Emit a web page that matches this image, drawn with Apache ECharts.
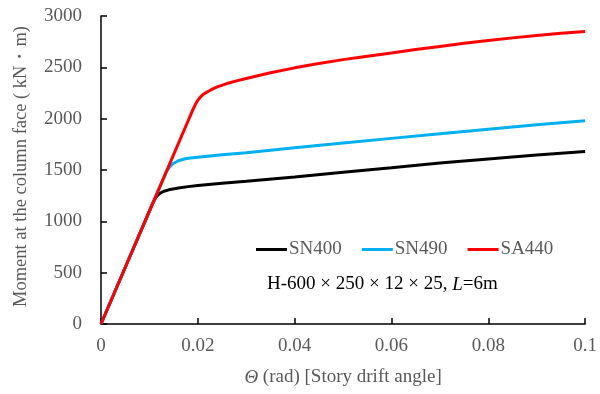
<!DOCTYPE html>
<html><head><meta charset="utf-8">
<script src="https://cdn.jsdelivr.net/npm/echarts@6/dist/echarts.min.js"></script>
<style>html,body{margin:0;padding:0;background:#fff}#c{width:600px;height:394px}</style>
</head><body><div id="c"></div>
<script>
const seriesNames = ['SN400', 'SN490', 'SA440'];
const thetaSN400 = [0, 0.005, 0.0105, 0.011, 0.0115, 0.012, 0.0125, 0.013, 0.014, 0.016, 0.018, 0.02, 0.025, 0.03, 0.04, 0.05, 0.06, 0.07, 0.08, 0.09, 0.1];
const momentSN400 = [0, 550, 1155, 1205, 1242, 1266, 1282, 1293, 1307, 1325, 1338, 1350, 1372, 1390, 1432, 1478, 1522, 1568, 1608, 1645, 1680];
const thetaSN490 = [0, 0.005, 0.01, 0.0125, 0.0135, 0.014, 0.0145, 0.015, 0.016, 0.017, 0.018, 0.02, 0.025, 0.03, 0.04, 0.05, 0.06, 0.07, 0.08, 0.09, 0.1];
const momentSN490 = [0, 550, 1100, 1375, 1480, 1518, 1546, 1566, 1590, 1605, 1615, 1625, 1648, 1668, 1716, 1763, 1808, 1853, 1898, 1940, 1980];
const thetaSA440 = [0, 0.005, 0.01, 0.015, 0.018, 0.0185, 0.019, 0.0195, 0.02, 0.0205, 0.021, 0.022, 0.023, 0.024, 0.026, 0.028, 0.03, 0.035, 0.04, 0.045, 0.05, 0.055, 0.06, 0.065, 0.07, 0.075, 0.08, 0.085, 0.09, 0.095, 0.1];
const momentSA440 = [0, 550, 1100, 1650, 1980, 2035, 2090, 2140, 2180, 2208, 2232, 2262, 2288, 2310, 2342, 2368, 2392, 2447, 2495, 2538, 2575, 2608, 2640, 2673, 2704, 2734, 2762, 2787, 2810, 2831, 2850];
const xTicks = [0, 0.02, 0.04, 0.06, 0.08, 0.1];
const yTicks = [0, 500, 1000, 1500, 2000, 2500, 3000];
const colors = ['#000000', '#00B0F0', '#FF0000'];

const pair = (xs, ys) => xs.map((x, i) => [x, ys[i]]);
const dataSets = [pair(thetaSN400, momentSN400), pair(thetaSN490, momentSN490), pair(thetaSA440, momentSA440)];

const font = '"Liberation Serif", "Times New Roman", serif';
const gray = '#595959';
const chart = echarts.init(document.getElementById('c'));
chart.setOption({
  animation: false,
  textStyle: {fontFamily: font},
  grid: {left: 101, right: 12, top: 16, bottom: 70},
  legend: {
    data: seriesNames, left: 251, top: 235, icon: 'rect', itemWidth: 31, itemHeight: 3, itemGap: 20,
    textStyle: {fontFamily: font, fontSize: 19, color: gray, padding: [0, 0, 0, -3]}
  },
  xAxis: {
    type: 'value', min: xTicks[0], max: xTicks[xTicks.length - 1], interval: 0.02,
    axisLine: {lineStyle: {color: '#000', width: 1.5}},
    axisTick: {inside: true, length: 6, lineStyle: {color: '#000', width: 1.5}},
    splitLine: {show: false},
    axisLabel: {fontFamily: font, fontSize: 19, color: gray, margin: 13,
      formatter: v => { const t = xTicks.find(k => Math.abs(k - v) < 1e-9); return t === undefined ? '' : String(+t.toFixed(2)); }},
    name: '{i|Θ} (rad) [Story drift angle]', nameLocation: 'middle', nameGap: 44,
    nameTextStyle: {fontFamily: font, fontSize: 19, color: gray, rich: {i: {fontStyle: 'italic', fontFamily: font, fontSize: 19, color: gray}}}
  },
  yAxis: {
    type: 'value', min: yTicks[0], max: yTicks[yTicks.length - 1], interval: 500,
    axisLine: {show: true, lineStyle: {color: '#000', width: 1.5}},
    axisTick: {show: true, inside: true, length: 6, lineStyle: {color: '#000', width: 1.5}},
    splitLine: {show: false},
    axisLabel: {fontFamily: font, fontSize: 19, color: gray, margin: 19, formatter: v => String(v)}
  },
  graphic: [{
    type: 'text', x: 21, y: 166.5, rotation: Math.PI / 2,
    style: {
      text: 'Moment at the column face ( kN・m)', fontFamily: font, fontSize: 18.5, fill: gray,
      align: 'center', verticalAlign: 'middle'
    }
  }, {
    type: 'text', left: 267, top: 275,
    style: {
      text: '{n|H-600 × 250 × 12 × 25, }{i|L}{n|=6m}',
      rich: {n: {fontFamily: font, fontSize: 19, fill: '#000'}, i: {fontFamily: font, fontSize: 19, fontStyle: 'italic', fill: '#000'}}
    }
  }],
  series: seriesNames.map((n, i) => ({
    name: n, type: 'line', data: dataSets[i], showSymbol: false, symbol: 'none', smooth: false,
    lineStyle: {color: colors[i], width: 3}, itemStyle: {color: colors[i]}, z: 2 + (i === 2 ? 1 : 0)
  }))
});
</script></body></html>
